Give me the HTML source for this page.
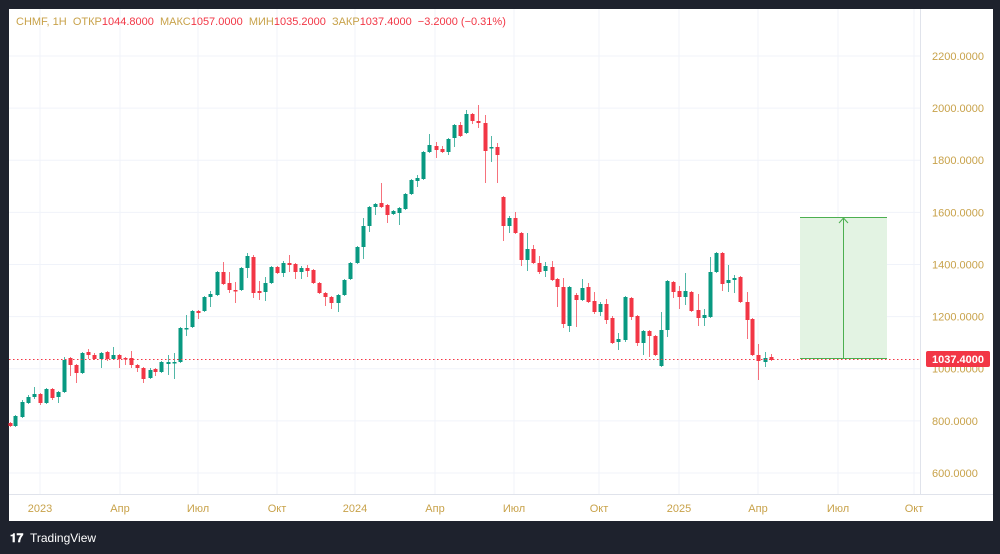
<!DOCTYPE html>
<html><head><meta charset="utf-8"><style>
body{margin:0;width:1000px;height:554px;background:#1e222d;overflow:hidden;font-family:"Liberation Sans",sans-serif}
svg{position:absolute;left:0;top:0}
</style></head><body>
<svg id="s" width="1000" height="554" xmlns="http://www.w3.org/2000/svg">
<rect x="9" y="9" width="984" height="512" fill="#fff"/>
<g id="grid" stroke="#f0f3fa" stroke-width="1"></g>
<line x1="9" y1="494.5" x2="993" y2="494.5" stroke="#e0e3eb"/>
<line x1="920.5" y1="9" x2="920.5" y2="494" stroke="#e0e3eb"/>
<rect x="800" y="217" width="87" height="142" fill="#e3f3e3"/>
<line x1="800" y1="217.5" x2="887" y2="217.5" stroke="#4caf50"/>
<line x1="800" y1="358.5" x2="887" y2="358.5" stroke="#4caf50"/>
<line x1="843.5" y1="358" x2="843.5" y2="219" stroke="#4caf50"/>
<path d="M839 223 L843.5 218 L848 223" fill="none" stroke="#4caf50"/>
<g id="c"></g>
<line x1="9" y1="359.5" x2="920" y2="359.5" stroke="#f23645" stroke-dasharray="1.5,2.5"/>
<g id="ax" font-size="11" fill="#c8a24a"></g>
<rect x="926" y="351" width="64" height="16" rx="2" fill="#f23645"/>
<text x="958" y="363" font-size="11" fill="#fff" text-anchor="middle" font-weight="bold">1037.4000</text>
<text x="16" y="25" font-size="11" style="white-space:pre"><tspan fill="#c8a24a">CHMF, 1H  ОТКР</tspan><tspan fill="#f23645">1044.8000</tspan><tspan fill="#c8a24a">  МАКС</tspan><tspan fill="#f23645">1057.0000</tspan><tspan fill="#c8a24a">  МИН</tspan><tspan fill="#f23645">1035.2000</tspan><tspan fill="#c8a24a">  ЗАКР</tspan><tspan fill="#f23645">1037.4000  −3.2000 (−0.31%)</tspan></text>
<text x="10" y="542" font-size="12" fill="#fff" font-weight="bold">𝟏𝟕</text>
<text x="30" y="542" font-size="12" fill="#fff">TradingView</text>
</svg>
<script>
var NS="http://www.w3.org/2000/svg";
function el(p,t,a,tx){var e=document.createElementNS(NS,t);for(var k in a)e.setAttribute(k,a[k]);if(tx)e.textContent=tx;p.appendChild(e);return e;}
var g=document.getElementById('grid'),ax=document.getElementById('ax'),c=document.getElementById('c');
var prices=[2200,2000,1800,1600,1400,1200,1000,800,600];
prices.forEach(function(p){var y=56+(2200-p)*0.2606;el(g,'line',{x1:9,x2:920,y1:y,y2:y});el(ax,'text',{x:932,y:y+4},p.toFixed(4));});
var mo=[[40,'2023'],[120,'Апр'],[198,'Июл'],[277,'Окт'],[355,'2024'],[435,'Апр'],[514,'Июл'],[599,'Окт'],[679,'2025'],[758,'Апр'],[838,'Июл'],[914,'Окт']];
mo.forEach(function(m){el(g,'line',{x1:m[0],x2:m[0],y1:9,y2:494});el(ax,'text',{x:m[0],y:512,'text-anchor':'middle'},m[1]);});
var d=[[10,423,426,422,427],[15,426,416,415,427],[22,417,402,400,418],[28,403,397,395,404],[34,397,394,387,399],[40,394,403,393,405],[46,403,389,388,404],[52,389,398,388,400],[58,397,392,391,403],[64,392,360,357,393],[70,358,365,357,376],[76,365,373,364,383],[82,373,353,352,374],[88,352,355,349,359],[94,355,359,353,360],[101,359,353,352,368],[107,352,359,351,361],[113,359,355,347,360],[119,355,359,354,368],[125,358,359,357,365],[131,358,365,351,368],[137,365,368,364,372],[143,368,379,367,383],[150,378,370,368,379],[155,369,372,368,376],[161,372,362,361,373],[168,364,362,355,375],[174,363,362,353,379],[180,362,328,327,363],[186,329,328,315,336],[192,327,311,310,328],[198,311,313,310,319],[204,311,297,296,312],[210,297,294,291,307],[217,295,272,271,296],[223,272,284,262,285],[229,283,290,272,293],[235,290,291,282,303],[241,290,268,267,291],[247,268,256,253,278],[253,257,293,255,298],[259,291,293,281,300],[265,292,283,277,301],[271,283,267,266,284],[277,267,273,266,274],[283,273,263,261,277],[289,263,265,255,272],[295,264,272,263,279],[301,272,268,266,279],[307,268,271,265,277],[313,270,283,269,284],[319,283,293,282,294],[325,293,297,292,306],[331,297,303,296,309],[338,303,295,294,312],[344,295,280,279,296],[350,279,263,262,280],[357,263,247,246,264],[363,247,226,218,259],[369,226,207,206,232],[375,207,204,203,215],[381,203,207,183,208],[387,205,215,204,223],[393,214,211,210,215],[399,213,208,207,225],[405,209,194,193,210],[411,194,180,179,195],[417,181,178,175,187],[423,179,152,151,180],[429,152,145,134,153],[436,146,150,142,158],[442,149,152,146,153],[448,152,139,138,155],[454,138,125,124,147],[460,125,136,122,137],[466,133,114,110,134],[472,114,121,113,124],[478,121,123,105,128],[485,123,151,115,183],[491,147,147,136,162],[497,147,155,143,183],[503,197,226,196,241],[509,226,218,216,233],[515,218,233,212,234],[521,233,260,232,266],[527,260,249,233,271],[533,249,263,245,264],[539,263,272,256,274],[545,271,266,262,277],[552,267,280,261,281],[557,279,287,278,307],[563,287,324,278,328],[569,326,287,286,332],[576,295,300,293,327],[582,300,288,279,301],[588,287,302,283,303],[594,301,312,292,314],[600,312,304,302,316],[606,304,320,299,324],[612,318,343,316,344],[618,342,339,333,350],[625,340,297,296,342],[631,298,317,297,320],[637,316,343,315,346],[643,343,331,330,355],[649,331,336,330,357],[655,336,355,335,356],[661,366,330,312,367],[667,330,281,280,337],[673,282,292,281,298],[679,291,297,286,309],[685,297,291,273,305],[691,292,311,291,312],[698,310,318,294,326],[704,318,315,309,326],[710,317,272,257,318],[716,272,253,252,273],[722,253,284,252,291],[728,283,280,265,292],[734,280,278,275,293],[740,277,302,276,303],[747,302,320,292,339],[752,319,355,318,356],[758,355,361,344,380],[765,362,358,352,367],[771,357,360,354,361]];
d.forEach(function(k){var x=k[0],o=k[1],cl=k[2],up=cl<=o;var col=up?'#089981':'#f23645';
el(c,'line',{x1:x+0.5,x2:x+0.5,y1:k[3],y2:k[4],stroke:col,'stroke-opacity':0.7});
var t=Math.min(o,cl),h=Math.max(1.5,Math.abs(o-cl));el(c,'rect',{x:x-1.5,y:t,width:4,height:h,fill:col});});
</script>
</body></html>
